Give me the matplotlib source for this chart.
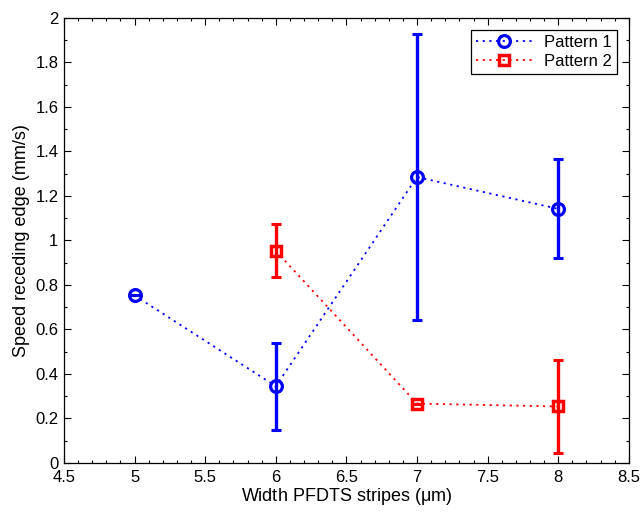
import matplotlib
matplotlib.use("Agg")
import matplotlib.pyplot as plt
from matplotlib.ticker import MultipleLocator, FuncFormatter

plt.rcParams['font.family'] = ['Liberation Sans', 'DejaVu Sans']
plt.rcParams['mathtext.default'] = 'regular'

# stripe widths (um) and receding-edge speeds (mm/s)
width_p1 = [5, 6, 7, 8]
speed_p1 = [0.753, 0.345, 1.285, 1.142]
err_p1 = [0.0, 0.195, 0.643, 0.223]

width_p2 = [6, 7, 8]
speed_p2 = [0.953, 0.267, 0.254]
err_p2 = [0.119, 0.0, 0.211]

dotted = (0, (1.2, 2.5))

fig = plt.figure(figsize=(6.43, 5.12), dpi=100)
ax = fig.add_axes([0.0995, 0.0957, 0.8785, 0.8693])

# error bars first, then the dotted lines with markers on top
ax.errorbar(width_p1, speed_p1, yerr=err_p1, fmt='none', ecolor='#0000ff',
            elinewidth=2.4, capsize=3.3, capthick=2.2)
ax.errorbar(width_p2, speed_p2, yerr=err_p2, fmt='none', ecolor='#ff0000',
            elinewidth=2.4, capsize=3.3, capthick=2.2)
ax.plot(width_p1, speed_p1, color='#0000ff', ls=dotted, lw=1.3, marker='o',
        ms=8.5, mfc='none', mew=2.3, label='Pattern 1')
ax.plot(width_p2, speed_p2, color='#ff0000', ls=dotted, lw=1.3, marker='s',
        ms=7.5, mfc='none', mew=2.5, label='Pattern 2')

ax.set_xlim(4.5, 8.5)
ax.set_ylim(0, 2)
ax.xaxis.set_major_locator(MultipleLocator(0.5))
ax.xaxis.set_minor_locator(MultipleLocator(0.1))
ax.yaxis.set_major_locator(MultipleLocator(0.2))
ax.yaxis.set_minor_locator(MultipleLocator(0.1))
fmt = FuncFormatter(lambda v, p: ('%.1f' % v).rstrip('0').rstrip('.'))
ax.xaxis.set_major_formatter(fmt)
ax.yaxis.set_major_formatter(fmt)
ax.tick_params(which='both', direction='in', top=True, right=True,
               labelsize=12, width=0.8)
ax.tick_params(axis='x', which='major', pad=5)
ax.tick_params(axis='y', which='major', pad=4)
ax.tick_params(which='major', length=5)
ax.tick_params(which='minor', length=2.5)
for s in ax.spines.values():
    s.set_linewidth(0.9)

ax.set_xlabel('Width PFDTS stripes ($\\mu$m)', fontsize=13, labelpad=1)
ax.set_ylabel('Speed receding edge (mm/s)', fontsize=13, labelpad=4)

leg = ax.legend(loc='upper right', fontsize=12, fancybox=False,
                edgecolor='black', framealpha=1, handlelength=3.4,
                borderaxespad=0.7, borderpad=0.3, labelspacing=0.25,
                handletextpad=0.7)
leg.get_frame().set_linewidth(0.9)

fig.savefig('out.png', dpi=100)
